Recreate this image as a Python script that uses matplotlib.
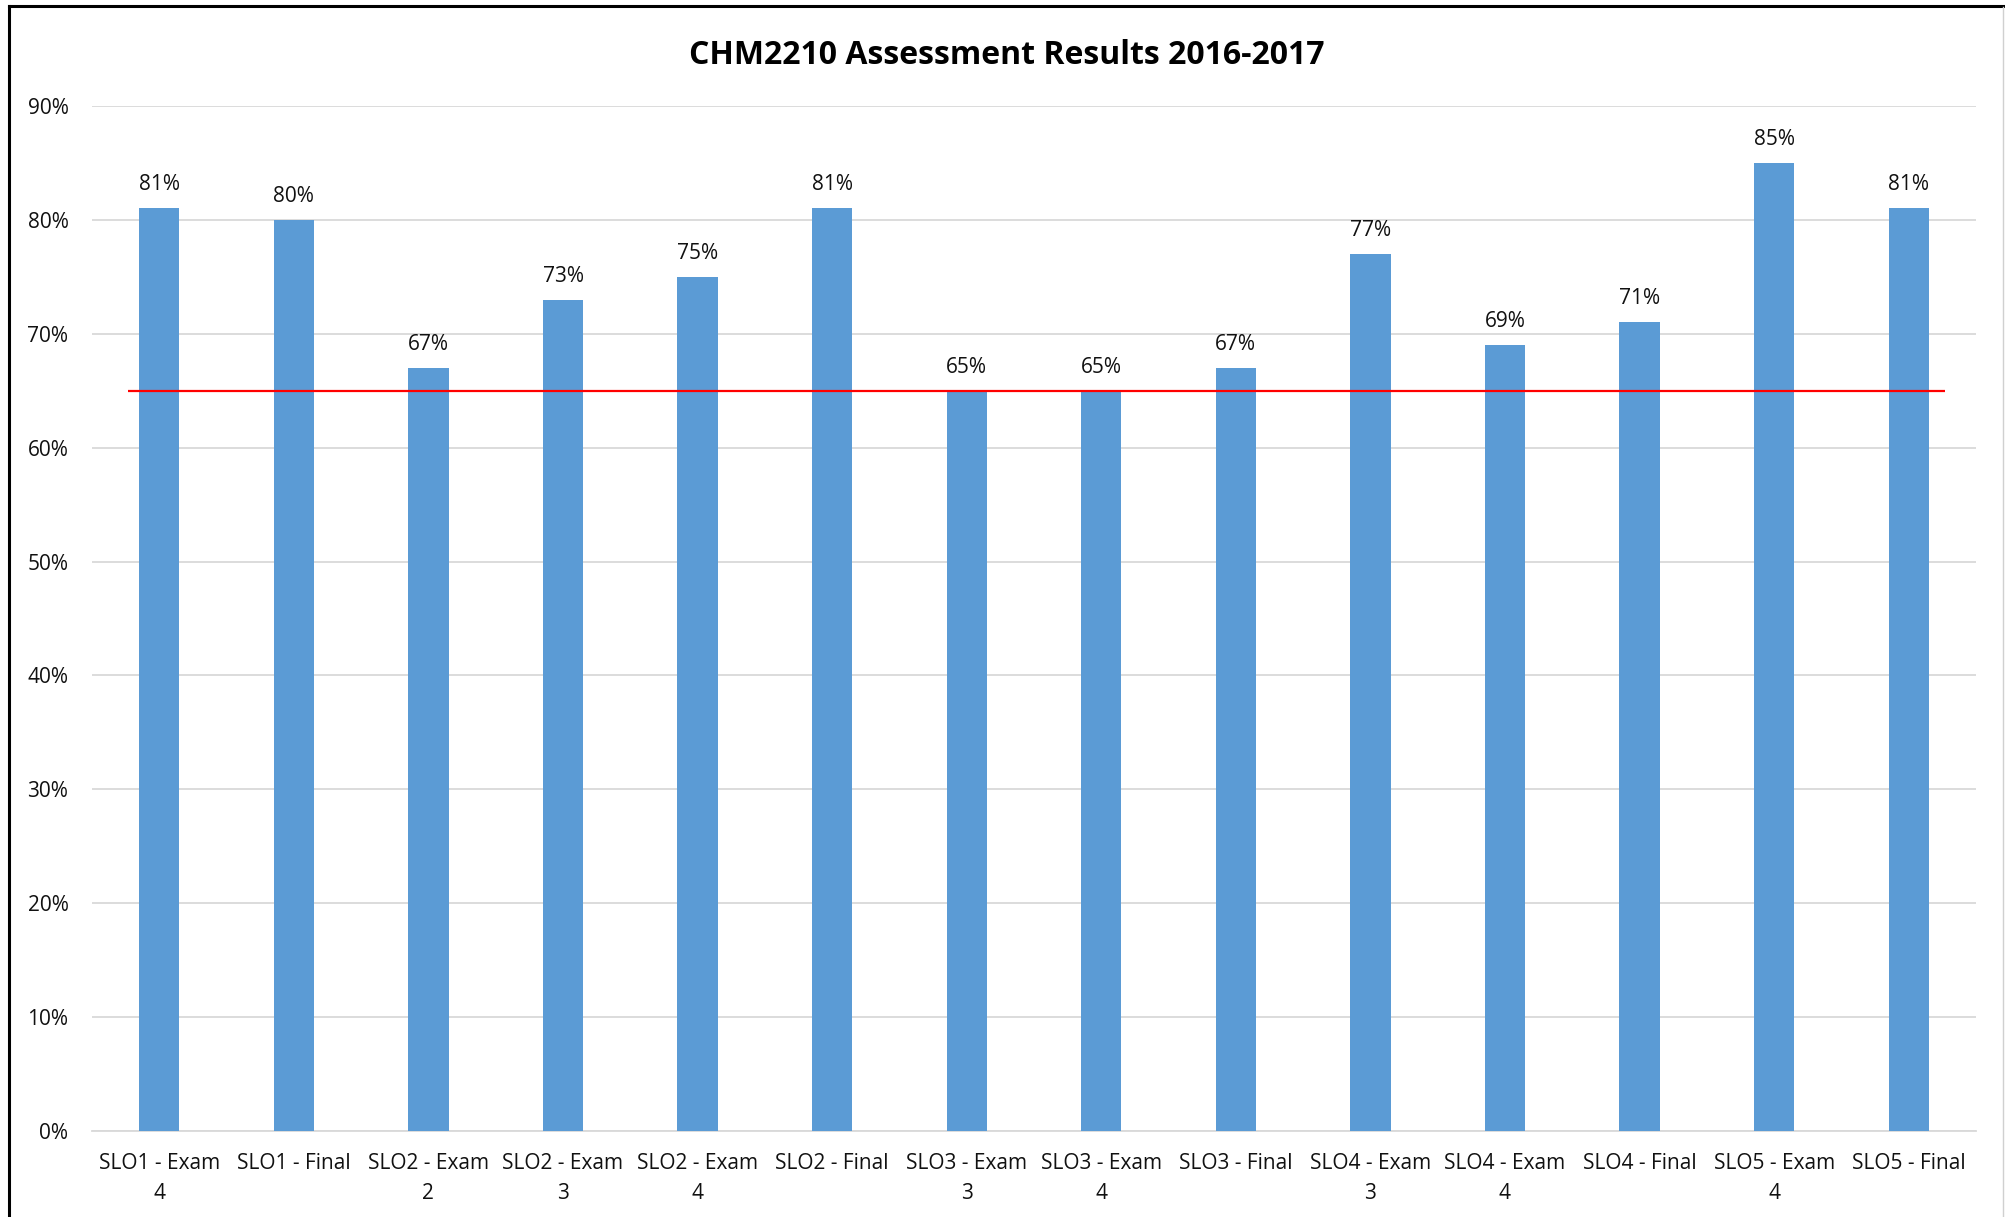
import matplotlib
matplotlib.use("Agg")
import matplotlib.pyplot as plt
from matplotlib.lines import Line2D
from matplotlib.ticker import FuncFormatter, MultipleLocator

categories = ["SLO1 - Exam\n4", "SLO1 - Final", "SLO2 - Exam\n2", "SLO2 - Exam\n3",
              "SLO2 - Exam\n4", "SLO2 - Final", "SLO3 - Exam\n3", "SLO3 - Exam\n4",
              "SLO3 - Final", "SLO4 - Exam\n3", "SLO4 - Exam\n4", "SLO4 - Final",
              "SLO5 - Exam\n4", "SLO5 - Final"]
values = [0.81, 0.80, 0.67, 0.73, 0.75, 0.81, 0.65, 0.65, 0.67, 0.77, 0.69, 0.71, 0.85, 0.81]
target = 0.65
title = "CHM2210 Assessment Results 2016-2017"

plt.rcParams['font.family'] = ['Open Sans', 'DejaVu Sans']

W, H = 2005, 1217
fig = plt.figure(figsize=(W / 100, H / 100), dpi=100)
ax = fig.add_axes([92 / W, 1 - 1131 / H, (1976 - 92) / W, (1131 - 106) / H])

x = list(range(len(categories)))
ax.bar(x, values, width=0.30, color="#5B9BD5", zorder=3)
ax.set_xlim(-0.5, len(categories) - 0.5)
ax.set_ylim(0, 0.9)

ax.hlines(target, -0.23, len(categories) - 1 + 0.27, color="#FF0000", linewidth=1.6, zorder=4)

for xi, v in zip(x, values):
    ax.annotate(f"{round(v * 100):d}%", (xi, v), xytext=(0, 17), textcoords="offset points",
                ha="center", va="center", fontsize=15, color="#111111")

ax.yaxis.set_major_locator(MultipleLocator(0.1))
ax.yaxis.set_major_formatter(FuncFormatter(lambda v, p: f"{round(v * 100):d}%"))
ax.grid(axis="y", color="#D9D9D9", linewidth=1.3, zorder=0)
ax.set_axisbelow(True)
ax.set_xticks(x)
ax.set_xticklabels(categories, fontsize=15, linespacing=1.55, color="#111111")
ax.tick_params(axis="y", length=0, pad=17, labelsize=15, labelcolor="#111111")
ax.tick_params(axis="x", length=0, pad=16)
for s in ["top", "right", "left"]:
    ax.spines[s].set_visible(False)
ax.spines["bottom"].set_color("#D9D9D9")
ax.spines["bottom"].set_linewidth(1.3)

fig.text(1007 / W, 1 - 55 / H, title, ha="center", va="center", fontsize=23,
         fontweight="bold", color="#000000")

# chart frame
fig.add_artist(Line2D([9 / W, 1.0], [1 - 6 / H, 1 - 6 / H], transform=fig.transFigure, color="black", linewidth=2.2))
fig.add_artist(Line2D([9 / W, 9 / W], [0, 1 - 6 / H], transform=fig.transFigure, color="black", linewidth=2.2))
fig.add_artist(Line2D([2003 / W, 2003 / W], [0, 1 - 7 / H], transform=fig.transFigure, color="#D0D0D0", linewidth=1.0))

fig.savefig("out.png", dpi=100)
